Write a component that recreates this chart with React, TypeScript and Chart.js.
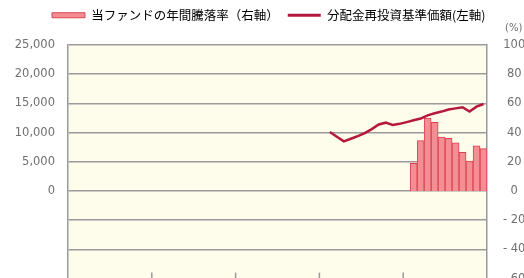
import React, { useEffect, useRef } from 'react';
import { Chart, registerables } from 'chart.js';

Chart.register(...registerables);

// ---- data ----
const years = ['2013', '2014', '2015', '2016', '2017'];
const monthNames = ['1', '2', '3', '4', '5', '6', '7', '8', '9', '10', '11', '12'];
const months: string[] = years.flatMap((y) => monthNames.map((m) => `${y}/${m}`));

const returnLabel = '当ファンドの年間騰落率（右軸）';
const navLabel = '分配金再投資基準価額(左軸)';

// NAV (left axis, yen) – first value at month index 37
const navStartIndex = 37;
const navValues = [
  10100, 9300, 8500, 8950, 9400, 9900, 10600, 11400, 11700, 11300, 11500, 11800,
  12100, 12400, 12950, 13300, 13600, 13950, 14150, 14350, 13600, 14450, 14900,
];

// Annual return (right axis, %) – first value at month index 49
const returnStartIndex = 49;
const returnValues = [19, 34.5, 50, 47, 37, 36, 33, 26.5, 20.5, 31, 29];

const leftTicks = { min: -15000, max: 25000, step: 5000 };
const rightTicks = { min: -60, max: 100, step: 20 };
const yearBoundaries = [12, 24, 36, 48];

// ---- styles ----
const BAR_FILL = '#F48E95';
const BAR_EDGE = '#D9434F';
const LINE = '#B5173D';
const GRID = '#9a9a9a';
const PLOT_BG = '#FEFDEC';
const TEXT = '#707070';
const NUM_FONT = '"DejaVu Sans", sans-serif';
const CJK_FONT = '"Noto Sans CJK JP", sans-serif';

const navData = months.map((_, i) => (i >= navStartIndex ? navValues[i - navStartIndex] ?? null : null));
const returnData = months.map((_, i) => (i >= returnStartIndex ? returnValues[i - returnStartIndex] ?? null : null));

const bgPlugin = {
  id: 'plotBg',
  beforeDraw(chart: any) {
    const { ctx, chartArea } = chart;
    ctx.save();
    ctx.fillStyle = PLOT_BG;
    ctx.fillRect(chartArea.left, chartArea.top, chartArea.right - chartArea.left, chartArea.bottom - chartArea.top);
    ctx.restore();
  },
};

const legendGap = {
  id: 'legendGap',
  beforeInit(chart: any) {
    const legend = chart.legend;
    if (!legend) return;
    const orig = legend.fit;
    legend.fit = function () {
      orig.call(this);
      this.height = 45;
    };
  },
  afterLayout(chart: any) {
    if (chart.legend) chart.legend.left = 43;
  },
};

const extrasPlugin = {
  id: 'extras',
  afterDraw(chart: any) {
    const { ctx, chartArea } = chart;
    const xs = chart.scales.x;
    const y2 = chart.scales.y2;
    ctx.save();
    ctx.strokeStyle = GRID;
    ctx.lineWidth = 1.5;
    yearBoundaries.forEach((k) => {
      const x = (xs.getPixelForValue(k - 1) + xs.getPixelForValue(k)) / 2;
      ctx.beginPath();
      ctx.moveTo(x, chartArea.bottom);
      ctx.lineTo(x, chartArea.bottom - 6);
      ctx.stroke();
    });
    ctx.fillStyle = TEXT;
    ctx.font = `10px ${NUM_FONT}`;
    ctx.textAlign = 'left';
    ctx.textBaseline = 'middle';
    ctx.fillText('(%)', y2.left + 18, chartArea.top - 17);
    ctx.restore();
  },
};

export default function App() {
  const ref = useRef<HTMLCanvasElement>(null);
  useEffect(() => {
    const canvas = ref.current!;
    const chart = new Chart(canvas, {
      type: 'bar',
      data: {
        labels: months,
        datasets: [
          {
            type: 'bar',
            label: returnLabel,
            data: returnData,
            yAxisID: 'y2',
            backgroundColor: BAR_FILL,
            borderColor: BAR_EDGE,
            borderWidth: 1,
            categoryPercentage: 1,
            barPercentage: 1,
            order: 2,
          } as any,
          {
            type: 'line',
            label: navLabel,
            data: navData,
            yAxisID: 'y',
            borderColor: LINE,
            backgroundColor: LINE,
            borderWidth: 2.5,
            pointRadius: 0,
            tension: 0,
            order: 1,
          } as any,
        ],
      },
      options: {
        responsive: false,
        animation: false,
        layout: { padding: { top: 0, bottom: 41.4, left: 0, right: 0 } },
        plugins: {
          tooltip: { enabled: false },
          legend: {
            position: 'top',
            align: 'start',
            labels: {
              font: { family: CJK_FONT, size: 12.5 },
              color: '#666',
              usePointStyle: true,
              pointStyleWidth: 33,
              boxHeight: 5,
              padding: 9,
              generateLabels: () => [
                { text: returnLabel, fillStyle: BAR_FILL, strokeStyle: BAR_EDGE, lineWidth: 1, pointStyle: 'rect', datasetIndex: 0, hidden: false } as any,
                { text: navLabel, fillStyle: LINE, strokeStyle: LINE, lineWidth: 3, pointStyle: 'line', datasetIndex: 1, hidden: false } as any,
              ],
            },
          },
        },
        scales: {
          x: { display: false, offset: true },
          y: {
            position: 'left',
            min: leftTicks.min,
            max: leftTicks.max,
            ticks: {
              stepSize: leftTicks.step,
              padding: 13,
              color: TEXT,
              font: { family: NUM_FONT, size: 11.5 },
              callback: (v: any) => (Number(v) < 0 ? '' : Number(v).toLocaleString('en-US')),
            },
            grid: { color: GRID, lineWidth: 1.5, drawTicks: false },
            border: { display: true, color: GRID, width: 1.5 },
            afterFit: (s: any) => {
              s.width = 68;
            },
          },
          y2: {
            position: 'right',
            min: rightTicks.min,
            max: rightTicks.max,
            ticks: {
              stepSize: rightTicks.step,
              padding: 16,
              crossAlign: 'center',
              color: TEXT,
              font: { family: NUM_FONT, size: 11.5 },
              callback: (v: any) => (Number(v) < 0 ? '- ' + Math.abs(Number(v)) : String(v)),
            },
            grid: { display: false, drawTicks: false },
            border: { display: true, color: GRID, width: 1.5 },
            afterFit: (s: any) => {
              s.width = 58;
            },
          },
        },
      } as any,
      plugins: [bgPlugin, legendGap, extrasPlugin],
    });
    return () => chart.destroy();
  }, []);

  return (
    <div style={{ position: 'fixed', left: 0, top: 0, width: 524, height: 278, overflow: 'hidden', background: '#fff' }}>
      <canvas ref={ref} width={545} height={320} style={{ display: 'block', width: 545, height: 320 }} />
    </div>
  );
}
